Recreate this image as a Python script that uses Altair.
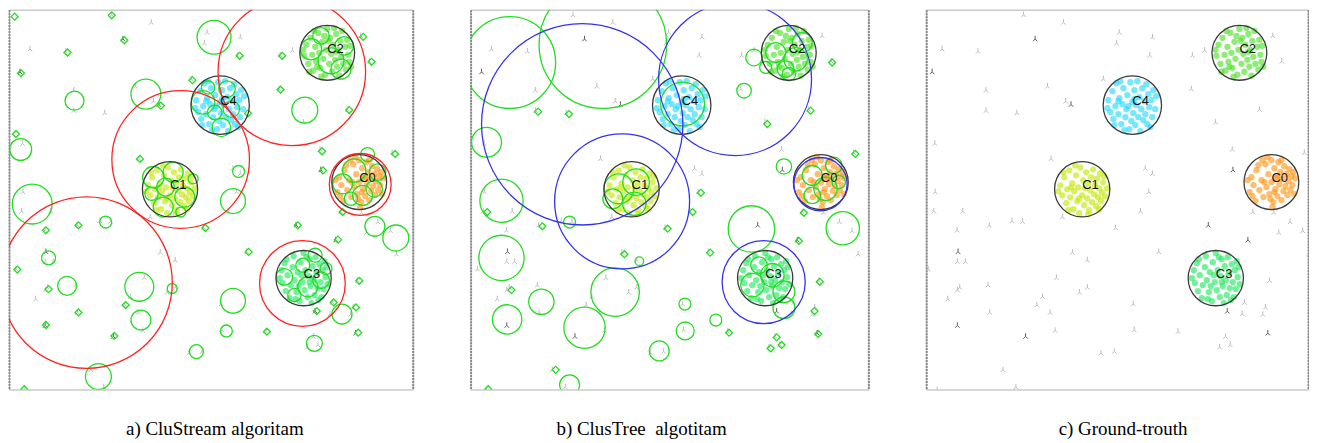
import altair as alt
import pandas as pd

# Coordinate space: pixels from the top-left corner of panel (a); y grows downward.
PANEL_H = 381

# ---------------- shared data stream ----------------
cluster_names = ["C0", "C1", "C2", "C3", "C4"]
cluster_x = [351.3, 161.5, 319.2, 295.5, 211.8]
cluster_y = [173.0, 180.2, 43.3, 269.3, 95.8]
cluster_r = [27.5, 27.7, 27.5, 27.7, 29.3]
cluster_colors = ["#ff9414", "#c4e600", "#48e024", "#1de95c", "#22d8ff"]

c0_pts = [(-20,-5),(-18,3),(-15,-12),(-12,8),(-10,-2),(-8,15),(-6,-18),(-5,5),(-3,-8),(-2,12),(0,0),(0,-22),
          (2,20),(3,-14),(4,7),(5,-4),(6,14),(7,-20),(8,2),(9,-10),(10,18),(11,-3),(12,9),(13,-16),(14,4),
          (15,-8),(16,13),(17,-1),(18,-13),(19,8),(20,-6),(21,3),(22,-10),(-22,10),(-24,-2),(-16,19),(-9,-22),
          (1,25),(-4,-25),(23,12),(-13,-17),(-19,14),(10,-22),(24,-4),(-1,17),(6,-6),(-7,0),(3,10)]
c1_pts = [(-22,-4),(-20,6),(-18,-12),(-16,14),(-15,0),(-13,-19),(-12,8),(-10,-6),(-9,20),(-8,2),(-6,-14),
          (-5,12),(-4,-2),(-3,24),(-2,-22),(0,6),(1,-9),(2,16),(3,-1),(4,-17),(5,9),(6,-6),(7,21),(8,1),(9,-12),
          (10,13),(11,-20),(12,5),(13,-4),(14,17),(15,-11),(16,8),(17,-1),(18,-16),(19,12),(20,3),(21,-7),
          (22,-13),(23,7),(-24,2),(-19,-17),(-14,21),(-7,-24),(6,25),(17,20),(25,-1),(-11,-2),(-3,9)]
c2_pts = [(-23,3),(-21,-8),(-19,11),(-17,-15),(-15,2),(-14,18),(-12,-6),(-11,9),(-9,-20),(-8,0),(-7,15),
          (-5,-11),(-4,6),(-2,22),(-1,-3),(0,-24),(2,11),(3,-15),(4,1),(5,19),(6,-8),(8,7),(9,-19),(10,14),
          (11,-3),(12,23),(13,-12),(14,4),(15,-22),(16,11),(18,-6),(19,17),(20,-13),(21,2),(22,9),(23,-7),
          (-24,-3),(-18,19),(-13,-22),(7,-25),(24,14),(-6,24),(1,-12),(-3,-17),(9,-1),(-10,14)]
c3_pts = [(-22,-8),(-21,5),(-19,-15),(-18,13),(-16,-3),(-14,20),(-13,7),(-11,-11),(-10,-22),(-9,2),(-7,14),
          (-6,-6),(-4,23),(-3,-16),(-1,4),(0,-25),(1,12),(2,-8),(4,19),(5,-2),(6,-19),(7,8),(8,25),(9,-12),
          (10,2),(11,17),(12,-21),(13,-5),(14,10),(16,-14),(17,4),(18,19),(19,-8),(20,11),(22,-1),(23,-11),
          (24,6),(-24,0),(-17,-19),(-8,21),(3,-21),(15,22),(21,-17),(-2,-3),(6,4),(-5,8)]
c4_pts = [(-24,-5),(-22,7),(-20,-14),(-19,14),(-17,1),(-16,-22),(-14,9),(-13,-7),(-11,19),(-10,-1),(-9,-17),
          (-7,12),(-6,4),(-5,-10),(-3,24),(-2,-23),(-1,16),(0,-3),(1,8),(2,-15),(3,20),(4,0),(5,-24),(6,12),
          (7,-8),(8,26),(9,4),(10,-17),(11,15),(12,-4),(13,9),(14,-21),(15,19),(16,-11),(17,2),(19,-5),(20,12),
          (21,-15),(23,4),(24,-9),(-25,3),(-18,20),(-12,-24),(-8,25),(18,22),(-4,1),(2,-6),(-14,-4)]
cluster_pts = [c0_pts, c1_pts, c2_pts, c3_pts, c4_pts]

noise_x = [102.7,142.7,114.3,198.7,232,196,21,57,11,229.3,272,284.3,352.7,361.7,182.7,126.7,65,271,145,150.3,
           65,96,339.3,295.3,13.7,312,384.3,130.3,312.7,224.7,232,14,228.3,41.7,12.7,141.7,220,332.7,353.7,91,
           101.7,68.3,36,195,288,370,358.7,382.7,327.7,37,36.3,44.3,151.7,166.7,238.3,388.7,7,135.7,349.3,67,
           38.7,36.3,166.7,158.7,26.7,121.7,116,212.7,324.3,68.7,129.3,307,322,342.7,345.3,36.3,134.3,213.7,
           257.7,347.7,104.7,305.3,299.3,310,180.3,193.7,82,95,16]
noise_y = [4.7,12.3,29,22.3,27,33,39,41.3,62,45.3,45.3,40.3,25.7,51.3,69,76.3,80.3,79,91.3,94.7,100.7,103,
           99.7,112.3,133.7,139.7,143,149,160.3,158.7,164,182.3,182.3,201.7,201.7,207.3,201.7,202.3,203,211.3,
           212,215.7,220.7,218.3,215.7,212.3,223,221.3,230.7,242.3,252.3,252.3,243,250.7,242.3,244.7,259.7,
           268.3,271.3,275.7,278,280.7,278,283,289.7,287.3,295.7,294.7,293.3,303.3,303.3,302,304.7,305.3,298,
           316.3,321.3,320.7,322.3,324,327.3,327.3,338,335.7,344,342.3,360.7,378,380.7]
noise_dark_idx = [2, 8, 19, 28, 44, 48, 49, 71, 75, 79, 80]

# ---------------- panel a: CluStream ----------------
a_macro = [(283.7,62.3,74),(172.2,150.3,69),(77.8,273.8,86),(352.3,175.3,31),(294.3,274.7,43)]
a_micro = [(205.7,27.7,17),(137.3,84.7,15),(65.7,91.3,9.5),(296.7,100.7,13),(11.7,140.3,11),(23.3,195,20),
           (230.3,162.3,6),(224.7,192,12.5),(97,213,6),(367,217.3,10),(388,229,13),(39.7,249,7),(58.3,277,9.5),
           (130.7,278,14.5),(163.7,279.7,5),(132.3,311.3,10),(224.7,292,12.5),(218,322.3,6),(188,343,7),
           (89.7,368,13),(306.3,334.7,8),(334,305.3,10),(307,246.3,7),(359.7,145.3,7),
           (144.7,168,10.7),(164.7,163,10),(176.3,188,10),(157,178,9),(143,184.7,6.7),(154.7,198,10),
           (172.3,203,5),(184.7,169.7,5),
           (194.7,93,11.7),(218.7,79.7,8.3),(206.3,103,7.3),(223,99.7,8.3),(213,118,9.3),(199.7,78,6.7),
           (303,39.7,10.7),(323,51.3,13),(333,59.7,10),(313,26.3,8.3),(336.3,36.3,9.3),
           (334.7,174.7,10),(346.3,161.3,11.7),(354.7,186.3,10),(366.3,179.7,8.3),(369.7,163,8.3),(343,189.7,6.7),
           (276.3,268,8.3),(299.7,278,10),(313,271.3,8.3),(286.3,286.3,6.7),(318,259.7,6),(294.7,256.3,7)]
a_tiny = [(5.7,7),(103,5.7),(115.7,30.7),(58.7,43),(12,63.7),(231.3,46.3),(274,46.3),(355.3,27.3),(363.7,52.3),
          (184,70.7),(272.3,80.3),(152.3,96.3),(341.3,100.7),(239.7,104),(7,124.7),(131.3,149.7),(314,142),
          (315,161.3),(387.3,144.7),(334.7,203),(197,219),(37,221.3),(69.7,216.3),(289.7,216.3),(330,230.7),
          (240.3,243),(8.3,260.7),(39.7,280.3),(117,296.3),(69.7,303.7),(308.7,302.3),(325.7,293.7),(348,298.7),
          (351.3,272),(37,316.3),(105.7,327.3),(258.7,323),(350.3,324),(15.3,380.7)]

# ---------------- panel b: ClusTree ----------------
b_macro = [(112,115,101),(265.3,69.7,76.7),(152,192.3,67.7),(294,273.3,41.7),(351,175,26.7)]
b_micro = [(39.3,53,46),(132.7,35,64),(16,133,15),(31,191.7,21.7),(31,249,22.7),(36.7,310.7,14.7),(71,293,12.7),
           (114.3,319,20.7),(145,283.3,24.3),(281.7,220,23.3),(373.3,219.3,16.7),(314.3,157.3,7.7),(274.3,81.3,7.3),
           (284.3,48,8.3),(99.3,213,6),(169.3,252.3,4.3),(215,295.3,6),(246,311.3,6),(215.3,322.3,9),
           (189.3,342.3,10),(99.3,376.3,10),(314.3,299,11),
           (148.7,179.7,15),(166,173,13.3),(164.3,194.7,11.7),(142.7,189.7,10),
           (212.7,94.7,22),
           (306,43,10),(326,49.7,11.7),(316,59.7,8.3),(332.7,33,10),(296,58,6),(319.3,64.7,6.7),
           (342.7,166.3,10),(356,179.7,11.7),(364.3,156.3,8.3),(342.7,186.3,8.3),(369.3,173,6.7),
           (282.7,276.3,11.7),(302.7,266.3,11.7),(314.3,283,11),(289.3,256.3,8.3)]
b_tiny = [(67.7,102.3),(98.7,104.7),(297.7,114.7),(341,101.3),(362.7,53),(386,144.7),(231,183.7),(222.7,203),
          (197.7,219.7),(72,217.3),(16.7,203),(154.3,245.3),(240.3,243.7),(329.3,232),(334.3,203.7),(350.3,273),
          (345,302.3),(307,328.7),(312,336.3),(301,339.7),(348.7,325.3),(259.3,324),(41,281.3),(85.3,361.3),
          (17.7,380.7)]

captions = ["a) CluStream algoritam", "b) ClusTree\u00a0 algotitam", "c) Ground-trouth"]

# ---------------- tables ----------------
noise_df = pd.DataFrame({"x": noise_x, "y": noise_y,
                         "tone": ["dark" if i in noise_dark_idx else "light" for i in range(len(noise_x))]})
gt_df = pd.DataFrame({"name": cluster_names, "x": cluster_x, "y": cluster_y, "r": cluster_r})
dot_rows = []
for name, cx, cy, pts in zip(cluster_names, cluster_x, cluster_y, cluster_pts):
    for dx, dy in pts:
        dot_rows.append({"name": name, "x": cx + dx, "y": cy + dy})
dots_df = pd.DataFrame(dot_rows)

def circ_df(rows):
    return pd.DataFrame(rows, columns=["x", "y", "r"])

def pt_df(rows):
    return pd.DataFrame(rows, columns=["x", "y"])

# ---------------- encodings ----------------
TRI = "M0,-1L0,0.15M0,0.15L-0.8,1M0,0.15L0.8,1"
RSCALE = alt.Scale(type="pow", exponent=2, domain=[0, 150], range=[0, 90000], nice=False, clamp=False)
AX_L = alt.Axis(orient="left", domain=True, domainColor="#8a8a8a", domainWidth=2, domainDash=[2, 1],
                ticks=False, labels=False, grid=False, title=None)
AX_R = alt.Axis(orient="right", domain=True, domainColor="#8a8a8a", domainWidth=2, domainDash=[2, 1],
                ticks=False, labels=False, grid=False, title=None)


def panel(xdom, width, macro, macro_color, micro, tiny, caption, dx):
    xsc = alt.Scale(domain=xdom, nice=False, zero=False)
    ysc = alt.Scale(domain=[0, PANEL_H], reverse=True, nice=False, zero=False)
    X = alt.X("x:Q", scale=xsc, axis=None)
    Y = alt.Y("y:Q", scale=ysc, axis=None)
    YL = alt.Y("y:Q", scale=ysc, axis=AX_L)
    YR = alt.Y("y:Q", scale=ysc, axis=AX_R)
    S = alt.Size("r:Q", scale=RSCALE, legend=None)

    layers = []
    layers.append(alt.Chart(noise_df).mark_point(shape=TRI, filled=False, size=30, strokeWidth=1,
                                                 opacity=1, clip=True).encode(
        x=X, y=YL,
        color=alt.Color("tone:N", scale=alt.Scale(domain=["light", "dark"], range=["#bcbcbc", "#5c5c5c"]),
                        legend=None)))
    layers.append(alt.Chart(dots_df).mark_circle(size=40, opacity=0.62, clip=True).encode(
        x=X, y=Y,
        color=alt.Color("name:N", scale=alt.Scale(domain=cluster_names, range=cluster_colors), legend=None)))
    if tiny is not None:
        layers.append(alt.Chart(pt_df(tiny)).mark_point(shape="diamond", filled=False, size=49, strokeWidth=1.3,
                                                         color="#22dd22", opacity=1, clip=True).encode(x=X, y=Y))
    if micro is not None:
        layers.append(alt.Chart(circ_df(micro)).mark_point(shape="circle", filled=False, strokeWidth=1.3,
                                                            color="#22dd22", opacity=1, clip=True).encode(
            x=X, y=Y, size=S))
    layers.append(alt.Chart(gt_df).mark_point(shape="circle", filled=False, strokeWidth=1.3,
                                              color="#3a3a3a", opacity=1, clip=True).encode(x=X, y=Y, size=S))
    if macro is not None:
        layers.append(alt.Chart(circ_df(macro)).mark_point(shape="circle", filled=False, strokeWidth=1.3,
                                                            color=macro_color, opacity=1, clip=True).encode(
            x=X, y=Y, size=S))
    layers.append(alt.Chart(gt_df).mark_text(align="left", baseline="alphabetic", fontSize=13,
                                             font="Liberation Sans", color="#111111").encode(
        x=X, y=YR, text="name:N"))

    return alt.layer(*layers).resolve_axis(y="independent").resolve_scale(color="independent").properties(
        width=width, height=PANEL_H,
        title=alt.TitleParams(text=caption, orient="bottom", anchor="middle", dx=dx, offset=31,
                              fontSize=19, font="Liberation Serif", fontWeight="normal", color="#000000"))


pa = panel([0, 405], 405, a_macro, "#ff2222", a_micro, a_tiny, captions[0], 4)
pb = panel([0, 399], 399, b_macro, "#3333ee", b_micro, b_tiny, captions[1], -28)
pc = panel([5, 388], 383, None, None, None, None, captions[2], 6)

chart = alt.hconcat(pa, pb, pc, spacing=56).properties(padding=0, background="white").configure_view(
    stroke="#b0b0b0", strokeWidth=1)

chart.save("out.html", embed_options={"renderer": "svg", "actions": False})
